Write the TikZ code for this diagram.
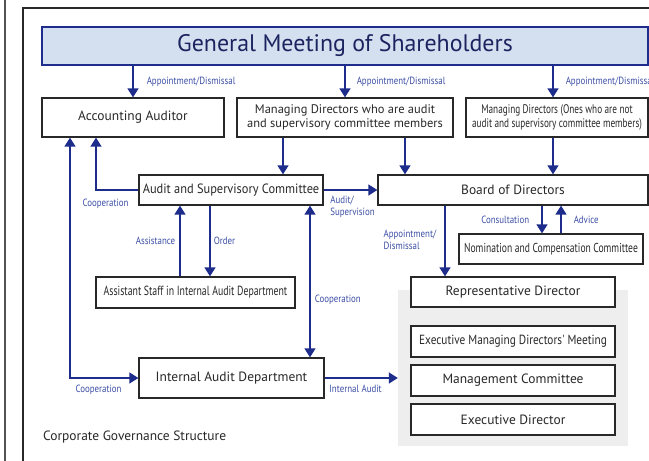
\documentclass[tikz,border=0pt]{standalone}
\usepackage{fontspec}
\setmainfont{PT Sans}
\newfontfamily\condfont[FakeStretch=0.85]{PT Sans}
\newfontfamily\semicondfont[FakeStretch=0.92]{PT Sans}
\newfontfamily\narrowfont[FakeStretch=0.74]{PT Sans}
\usetikzlibrary{positioning,arrows.meta,calc}
\definecolor{Color1}{RGB}{40,40,40}
\definecolor{Color2}{RGB}{30,44,140}
\definecolor{Color3}{RGB}{60,78,165}
\definecolor{Color4}{RGB}{212,223,240}
\definecolor{Color5}{RGB}{238,238,238}
\definecolor{Color6}{RGB}{28,36,96}
\tikzset{
	box/.style={rectangle, draw=Color1, line width=1.3bp, text=Color1, inner sep=0pt, align=center, font=\fontsize{13.5}{15}\selectfont},
	narrowbox/.style={box, font=\narrowfont\fontsize{12.5}{14}\selectfont},
	link/.style={draw=Color2, line width=1.5bp, ->},
	lbl/.style={text=Color3, inner sep=0pt, align=left, font=\condfont\fontsize{10.5}{12}\selectfont},
}

\begin{document}
\begin{tikzpicture}[x=1bp,y=-1bp,>={Triangle[length=9bp,width=11bp]}]
	\useasboundingbox (0,0) rectangle (649,461);
	% frame
	\draw [Color1!80, line width=1.2bp] (5,0) -- (5,461);
	\draw [Color1, line width=1.2bp] (23,461) -- (23,8) -- (649,8);
	% top row
	\node (gm) [box, draw=Color2, fill=Color4, text=Color6, minimum width=606bp, minimum height=38bp, font=\fontsize{24}{26}\selectfont] at (345,46) {General Meeting of Shareholders};
	\node (aa)  [box, minimum width=182bp, minimum height=39bp] at (133,117.5) {Accounting Auditor};
	\node (mda) [box, minimum width=216bp, minimum height=39bp, font=\fontsize{12.5}{14}\selectfont] at (345,117.5) {Managing Directors who are audit\\and supervisory committee members};
	\node (mdn) [narrowbox, minimum width=182bp, minimum height=39bp] at (557,117.5) {Managing Directors (Ones who are not\\audit and supervisory committee members)};
	% middle
	\node (asc) [box, minimum width=184bp, minimum height=30bp, font=\semicondfont\fontsize{13.5}{15}\selectfont] at (231,190) {Audit and Supervisory Committee};
	\node (bod) [box, minimum width=270bp, minimum height=30bp] at (513,190) {Board of Directors};
	\node (ncc) [narrowbox, minimum width=184bp, minimum height=30bp, font=\narrowfont\fontsize{13}{15}\selectfont] at (551,249) {Nomination and Compensation Committee};
	\node (ast) [narrowbox, minimum width=199bp, minimum height=31bp, font=\narrowfont\fontsize{13.3}{15}\selectfont] at (195.5,292.5) {Assistant Staff in Internal Audit Department};
	\node (iad) [box, minimum width=185bp, minimum height=40bp] at (231.5,378) {Internal Audit Department};
	% execution side
	\node (execarea) [rectangle, fill=Color5, minimum width=230bp, minimum height=156bp, inner sep=0pt] at (513,368) {};
	\node (rd)   [box, fill=white, minimum width=204bp, minimum height=30bp] at (513,292) {Representative Director};
	\node (emdm) [narrowbox, fill=white, minimum width=204bp, minimum height=31bp, font=\condfont\fontsize{13.3}{15}\selectfont] at (513,341.5) {Executive Managing Directors' Meeting};
	\node (mc)   [box, fill=white, minimum width=204bp, minimum height=31bp] at (513,380.5) {Management Committee};
	\node (ed)   [box, fill=white, minimum width=204bp, minimum height=31bp] at (513,419.5) {Executive Director};
	\node (caption) [anchor=west, inner sep=0pt, text=Color1, font=\fontsize{13.5}{15}\selectfont] at (43,437) {Corporate Governance Structure};
	% connectors
	\draw [link] (gm.south -| aa.north) -- (aa.north) node [lbl, midway, anchor=west, xshift=13bp] {Appointment/Dismissal};
	\draw [link] (gm.south -| mda.north) -- (mda.north) node [lbl, midway, anchor=west, xshift=11bp] {Appointment/Dismissal};
	\draw [link] ([xshift=-4bp]mdn.north |- gm.south) -- ([xshift=-4bp]mdn.north) node [lbl, midway, anchor=west, xshift=12bp] {Appointment/Dismissal};
	\draw [link] ([xshift=-62bp]mda.south) -- ([xshift=-62bp]mda.south |- asc.north);
	\draw [link] ([xshift=60bp]mda.south) -- ([xshift=60bp]mda.south |- bod.north);
	\draw [link] ([xshift=-4bp]mdn.south) -- ([xshift=-4bp]mdn.south |- bod.north);
	\draw [link] (asc.west) node [lbl, anchor=north east, xshift=-9bp, yshift=-8bp] {Cooperation} -| ([xshift=-37bp]aa.south);
	\draw [link, <->] (iad.west) node [lbl, anchor=north east, xshift=-16bp, yshift=-6bp] {Cooperation} -| ([xshift=-63bp]aa.south);
	\draw [link] (asc.east) node [lbl, anchor=north west, xshift=6bp, yshift=-5bp] {Audit/\\Supervision} -- (bod.west);
	\draw [link] ([xshift=-15.5bp]ast.north) -- ([xshift=-15.5bp]ast.north |- asc.south) node [lbl, midway, anchor=east, xshift=-4bp] {Assistance};
	\draw [link] ([xshift=14.5bp]ast.north |- asc.south) -- ([xshift=14.5bp]ast.north) node [lbl, midway, anchor=west, xshift=3bp] {Order};
	\draw [link, <->] ([xshift=78.5bp]iad.north |- asc.south) -- ([xshift=78.5bp]iad.north) node [lbl, pos=0.62, anchor=west, xshift=4bp] {Cooperation};
	\draw [link] (iad.east) node [lbl, anchor=north west, xshift=4bp, yshift=-6bp] {Internal Audit} -- (iad.east -| execarea.west);
	\draw [link] ([xshift=-68bp]bod.south) -- ([xshift=-68bp]bod.south |- rd.north) node [lbl, pos=0.49, anchor=east, xshift=-8bp] {Appointment/\\Dismissal};
	\draw [link] ([xshift=29bp]bod.south) -- ([xshift=29bp]bod.south |- ncc.north) node [lbl, midway, anchor=east, xshift=-12bp] {Consultation};
	\draw [link] ([xshift=10bp]ncc.north) -- ([xshift=10bp]ncc.north |- bod.south) node [lbl, midway, anchor=west, xshift=12bp] {Advice};
\end{tikzpicture}
\end{document}
